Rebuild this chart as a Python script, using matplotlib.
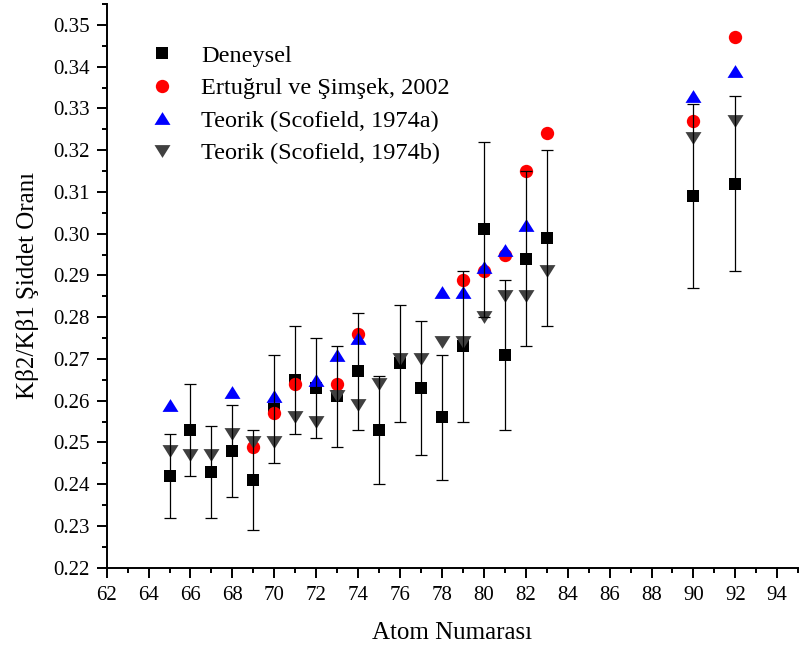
import numpy as np
import matplotlib.pyplot as plt
from matplotlib.ticker import MultipleLocator, FormatStrFormatter

plt.rcParams['font.family'] = ['Liberation Serif', 'DejaVu Serif']

# measured ratios (Deneysel) with errors
z_exp = [65, 66, 67, 68, 69, 70, 71, 72, 73, 74, 75, 76, 77, 78, 79, 80, 81, 82, 83, 90, 92]
r_exp = [0.242, 0.253, 0.243, 0.248, 0.241, 0.258, 0.265, 0.263, 0.261, 0.267, 0.253,
         0.269, 0.263, 0.256, 0.273, 0.301, 0.271, 0.294, 0.299, 0.309, 0.312]
err_exp = [0.010, 0.011, 0.011, 0.011, 0.012, 0.013, 0.013, 0.012, 0.012, 0.014, 0.013,
           0.014, 0.016, 0.015, 0.018, 0.021, 0.018, 0.021, 0.021, 0.022, 0.021]

# Ertugrul ve Simsek, 2002
z_ert = [69, 70, 71, 73, 74, 79, 80, 81, 82, 83, 90, 92]
r_ert = [0.249, 0.257, 0.264, 0.264, 0.276, 0.289, 0.291, 0.295, 0.315, 0.324, 0.327, 0.347]

# Scofield 1974a
z_sa = [65, 68, 70, 72, 73, 74, 78, 79, 80, 81, 82, 90, 92]
r_sa = [0.259, 0.262, 0.261, 0.265, 0.271, 0.275, 0.286, 0.286, 0.292, 0.296, 0.302, 0.333, 0.339]

# Scofield 1974b
z_sb = [65, 66, 67, 68, 69, 70, 71, 72, 73, 74, 75, 76, 77, 78, 79, 80, 81, 82, 83, 90, 92]
r_sb = [0.248, 0.247, 0.247, 0.252, 0.250, 0.250, 0.256, 0.255, 0.261, 0.259, 0.264,
        0.270, 0.270, 0.274, 0.274, 0.280, 0.285, 0.285, 0.291, 0.323, 0.327]

tri_up = [(-1, -0.8), (1, -0.8), (0, 0.8)]
tri_dn = [(-1, 0.8), (1, 0.8), (0, -0.8)]

fig = plt.figure(figsize=(7.99, 6.55), dpi=100)
ax = fig.add_axes([0.1335, 0.1333, 0.8655, 0.8606])

ax.plot(z_exp, r_exp, ls='none', marker='s', ms=8.3, mew=0, color='black',
        label='Deneysel', zorder=3)
ax.plot(z_ert, r_ert, ls='none', marker='o', ms=9.6, mew=0, color='#ff0000',
        label='Ertuğrul ve Şimşek, 2002', zorder=4)
ax.plot(z_sa, r_sa, ls='none', marker=tri_up, ms=11.5, mew=0, color='#0000ff',
        label='Teorik (Scofield, 1974a)', zorder=5)
ax.plot(z_sb, r_sb, ls='none', marker=tri_dn, ms=11.5, mew=0, color='#404040',
        label='Teorik (Scofield, 1974b)', zorder=6)
ax.errorbar(z_exp, r_exp, yerr=err_exp, fmt='none', ecolor='black', elinewidth=0.9,
            capsize=4, capthick=0.9, zorder=7)

ax.set_xlim(62, 95)
ax.set_ylim(0.22, 0.355)
ax.xaxis.set_major_locator(MultipleLocator(2))
ax.xaxis.set_minor_locator(MultipleLocator(1))
ax.yaxis.set_major_locator(MultipleLocator(0.01))
ax.yaxis.set_minor_locator(MultipleLocator(0.005))
ax.yaxis.set_major_formatter(FormatStrFormatter('%.2f'))

for s in ['top', 'right']:
    ax.spines[s].set_visible(False)
for s in ['left', 'bottom']:
    ax.spines[s].set_linewidth(1.4)
ax.tick_params(which='major', direction='out', length=7, width=1.4, labelsize=15)
ax.tick_params(which='minor', direction='out', length=3.5, width=1.4)
ax.tick_params(axis='y', which='major', pad=5)
ax.tick_params(axis='x', which='major', pad=6.5)

ax.set_xlabel('Atom Numarası', fontsize=18, labelpad=12)
ax.set_ylabel('Kβ2/Kβ1 Şiddet Oranı', fontsize=18, labelpad=10)

ax.legend(loc='upper left', bbox_to_anchor=(0.045, 0.945), frameon=False,
          fontsize=17.5, handlelength=1.2, handletextpad=1.0, labelspacing=0.43,
          borderaxespad=0)

fig.savefig('out.png', dpi=100)
